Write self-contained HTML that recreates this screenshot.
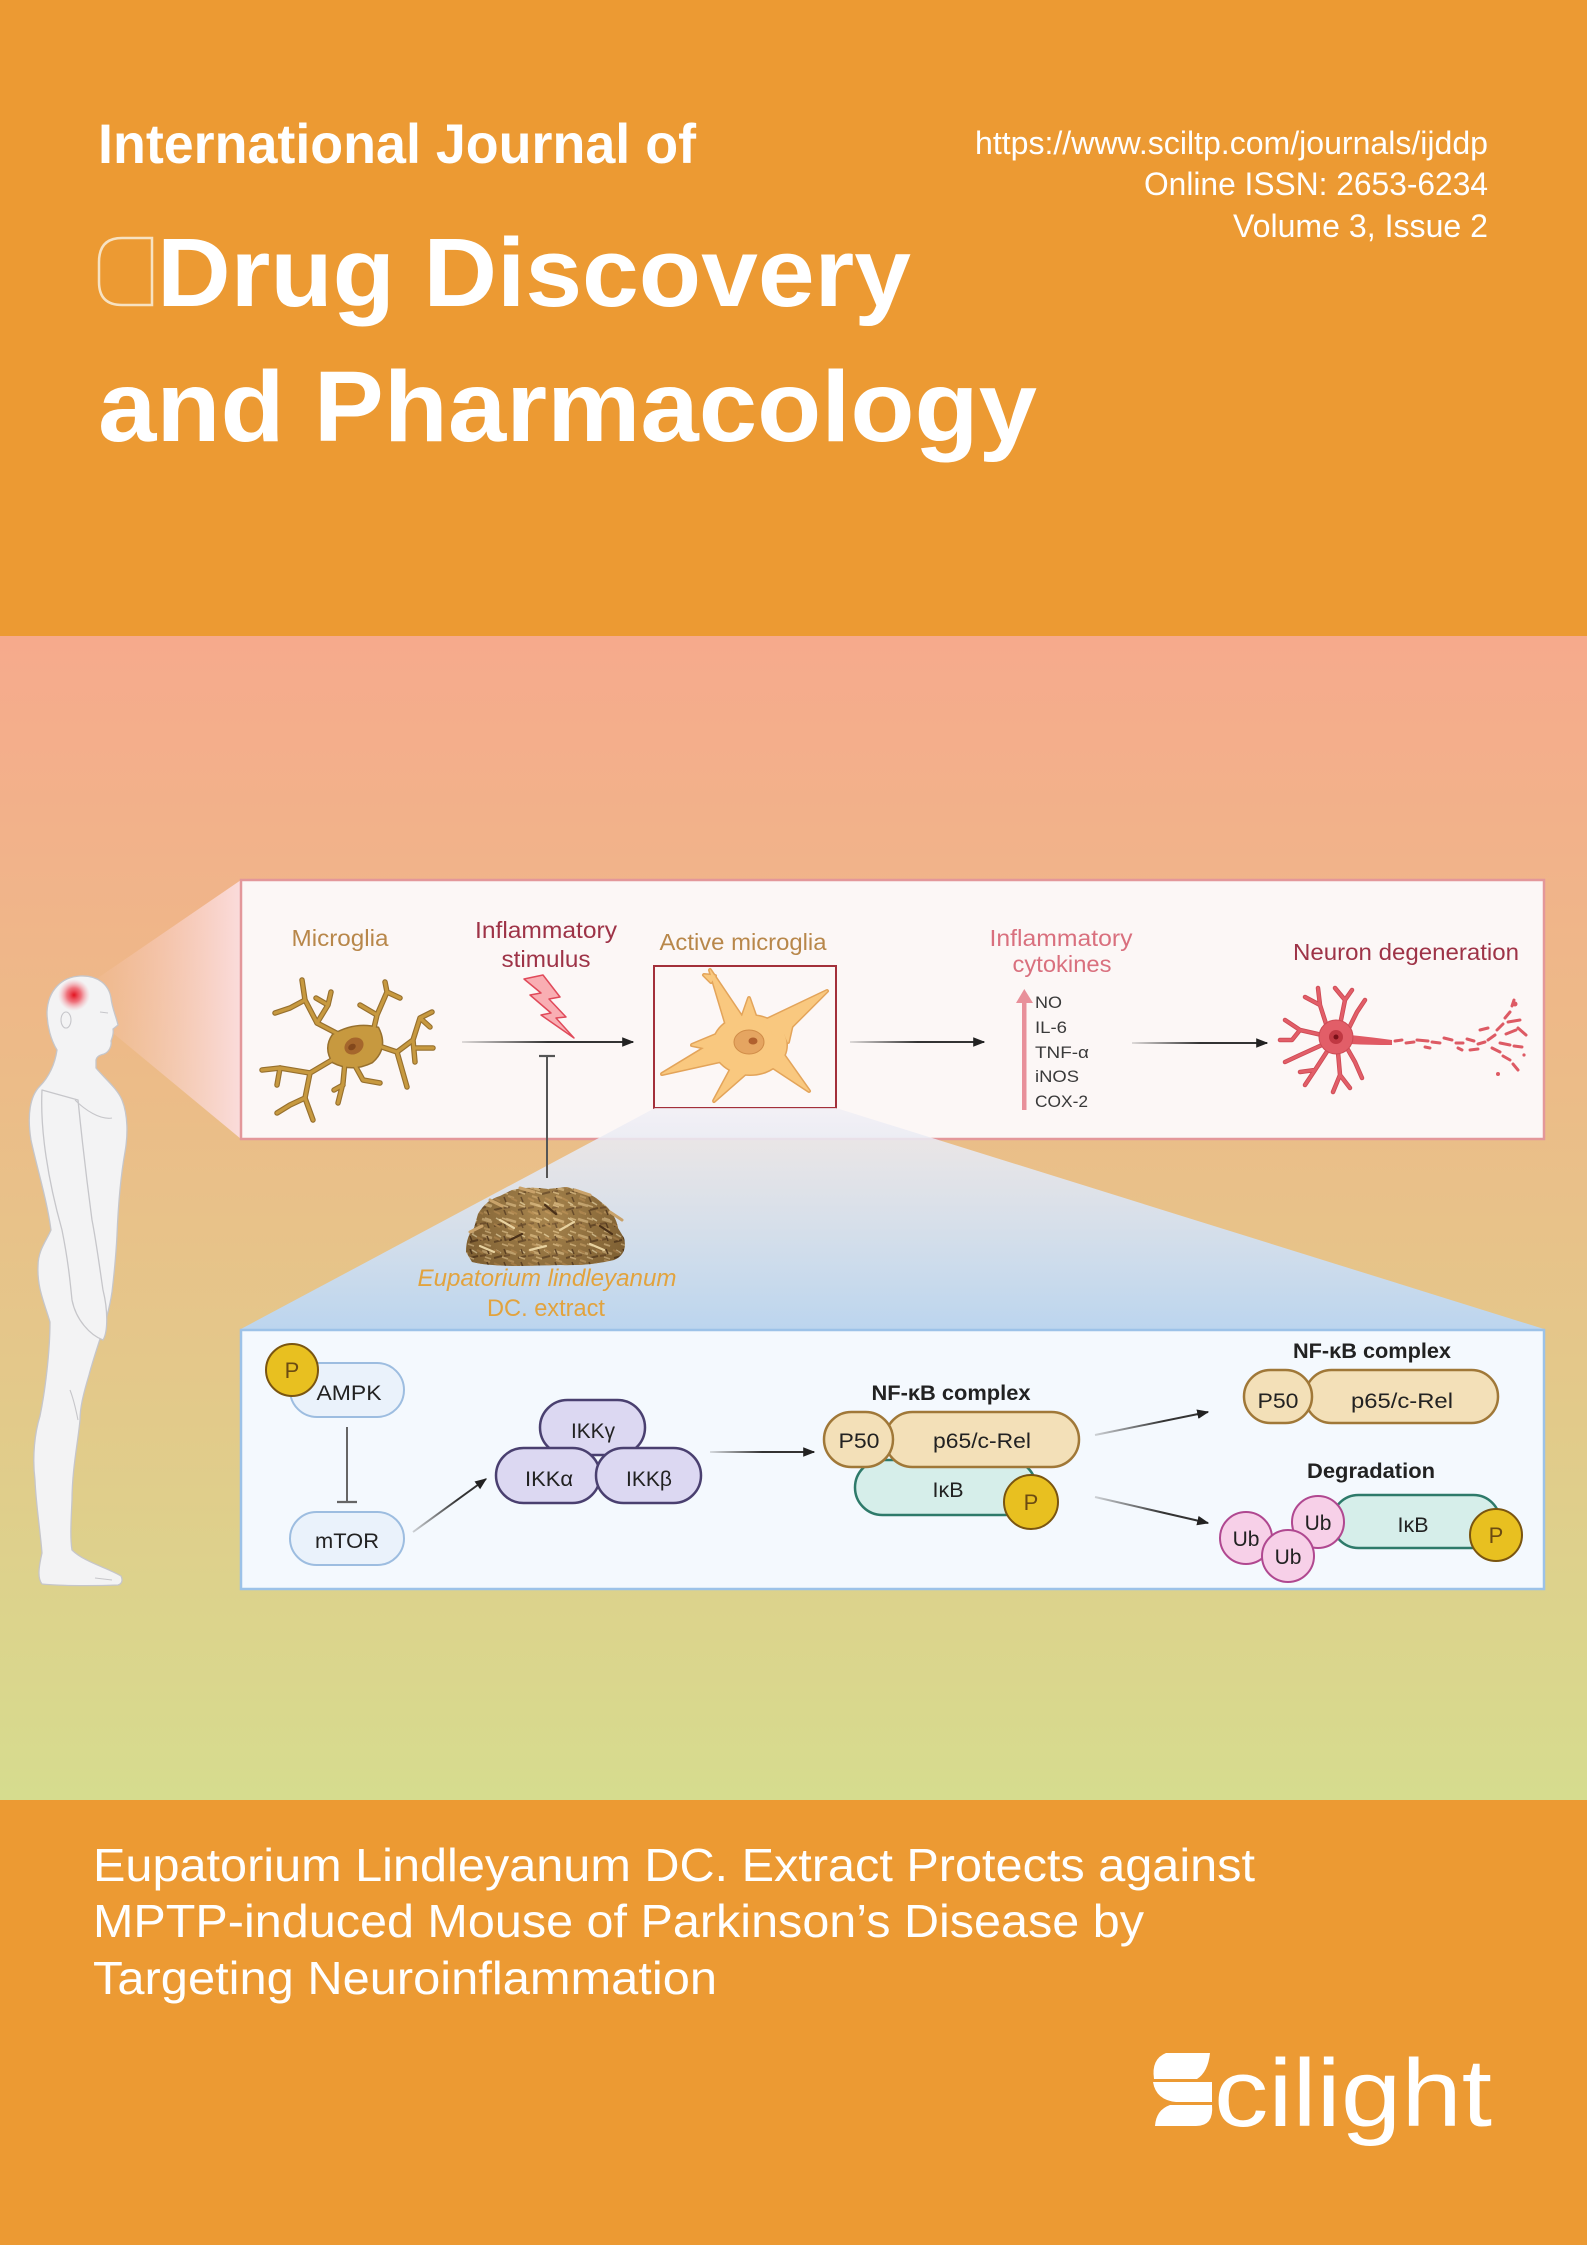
<!DOCTYPE html>
<html><head><meta charset="utf-8"><style>
html,body{margin:0;padding:0;background:#EC9A33;}
svg{display:block;font-family:"Liberation Sans","DejaVu Sans",sans-serif;}
</style></head><body>
<svg width="1587" height="2245" viewBox="0 0 1587 2245" xmlns="http://www.w3.org/2000/svg" xmlns:xlink="http://www.w3.org/1999/xlink">
<defs>
<linearGradient id="bg" x1="0" y1="636" x2="0" y2="1800" gradientUnits="userSpaceOnUse">
<stop offset="0" stop-color="#F6AA8C"/><stop offset="0.35" stop-color="#EDBA88"/><stop offset="0.65" stop-color="#E3C98A"/><stop offset="1" stop-color="#D6DC8E"/>
</linearGradient>
<linearGradient id="cone" x1="85" y1="0" x2="241" y2="0" gradientUnits="userSpaceOnUse">
<stop offset="0" stop-color="#F8C9BD" stop-opacity="0"/><stop offset="1" stop-color="#FBDDDE" stop-opacity="0.97"/>
</linearGradient>
<linearGradient id="trap" x1="0" y1="1108" x2="0" y2="1329" gradientUnits="userSpaceOnUse">
<stop offset="0" stop-color="#F1EFF5" stop-opacity="0.85"/><stop offset="1" stop-color="#BCD5EE"/>
</linearGradient>
<radialGradient id="glow" cx="74" cy="995" r="16" gradientUnits="userSpaceOnUse">
<stop offset="0" stop-color="#E3121F"/><stop offset="0.45" stop-color="#EE4B58" stop-opacity="0.75"/><stop offset="1" stop-color="#F7A0A8" stop-opacity="0"/>
</radialGradient>
<radialGradient id="pileShade" cx="545" cy="1215" r="90" gradientUnits="userSpaceOnUse">
<stop offset="0" stop-color="#C8A46A" stop-opacity="0.35"/><stop offset="1" stop-color="#4A3218" stop-opacity="0.35"/>
</radialGradient>
<linearGradient id="g1" x1="462" y1="0" x2="634" y2="0" gradientUnits="userSpaceOnUse"><stop offset="0" stop-color="#333" stop-opacity="0.15"/><stop offset="0.5" stop-color="#333"/></linearGradient>
<linearGradient id="g2" x1="850" y1="0" x2="985" y2="0" gradientUnits="userSpaceOnUse"><stop offset="0" stop-color="#333" stop-opacity="0.15"/><stop offset="0.5" stop-color="#333"/></linearGradient>
<linearGradient id="g3" x1="1132" y1="0" x2="1268" y2="0" gradientUnits="userSpaceOnUse"><stop offset="0" stop-color="#333" stop-opacity="0.15"/><stop offset="0.5" stop-color="#333"/></linearGradient>
<linearGradient id="g4" x1="710" y1="0" x2="815" y2="0" gradientUnits="userSpaceOnUse"><stop offset="0" stop-color="#333" stop-opacity="0.15"/><stop offset="0.5" stop-color="#333"/></linearGradient>
<linearGradient id="g5" x1="413" y1="0" x2="487" y2="0" gradientUnits="userSpaceOnUse"><stop offset="0" stop-color="#333" stop-opacity="0.2"/><stop offset="0.6" stop-color="#333"/></linearGradient>
<linearGradient id="g6" x1="1095" y1="0" x2="1209" y2="0" gradientUnits="userSpaceOnUse"><stop offset="0" stop-color="#333" stop-opacity="0.2"/><stop offset="0.6" stop-color="#333"/></linearGradient>
<marker id="ah" viewBox="0 0 10 8" refX="9" refY="4" markerWidth="12" markerHeight="10" markerUnits="userSpaceOnUse" orient="auto"><path d="M0,0 L10,4 L0,8 Z" fill="#222"/></marker>
<pattern id="bark" width="24" height="16" patternUnits="userSpaceOnUse">
<rect width="24" height="16" fill="#97753F"/>
<path d="M2,3 L12,6" stroke="#DDBD84" stroke-width="2.5"/>
<path d="M14,10 L22,8" stroke="#54391C" stroke-width="2"/>
<path d="M4,12 L10,14" stroke="#C9A266" stroke-width="2"/>
<path d="M16,2 L21,5" stroke="#EEDCAA" stroke-width="1.5"/>
<path d="M0,8 L6,7" stroke="#6B4A28" stroke-width="2"/>
</pattern>
<pattern id="bark2" width="17" height="13" patternUnits="userSpaceOnUse">
<path d="M1,2 L7,5" stroke="#B88C50" stroke-width="2"/>
<path d="M9,9 L15,11" stroke="#E2C48C" stroke-width="1.6"/>
<path d="M11,1 L13,6" stroke="#4A3018" stroke-width="1.5"/>
</pattern>
<g id="mgBr" fill="none" stroke-linecap="round" stroke-linejoin="round">
<path d="M340,1035 L317,1023 L305,1000 L302,980"/>
<path d="M305,1000 L290,1008 L275,1013"/>
<path d="M317,1023 L328,1005 L331,992 M328,1005 L316,998"/>
<path d="M337,1057 L310,1073 L280,1068 L262,1070"/>
<path d="M280,1068 L277,1085"/>
<path d="M310,1073 L305,1098 L290,1105 L277,1113"/>
<path d="M305,1098 L313,1120"/>
<path d="M353,1062 L363,1080 L380,1083"/>
<path d="M345,1062 L343,1083 L338,1103 M343,1085 L334,1090"/>
<path d="M373,1032 L377,1015 L360,1005 M377,1015 L387,992 L400,998 M387,992 L385,982"/>
<path d="M376,1045 L397,1052 L413,1040 L420,1018 L432,1012 M420,1018 L430,1027 M397,1052 L407,1087 M413,1040 L415,1062 M414,1048 L433,1048"/>
</g>
<path id="mgBody" d="M333,1035 Q355,1022 378,1028 Q388,1048 372,1062 Q352,1072 333,1062 Q324,1048 333,1035 Z"/>
<g id="am">
<ellipse cx="750" cy="1045" rx="36" ry="29"/>
<polygon points="728,1030 745,1022 710,970"/>
<polygon points="711,982 704,975 715,976"/>
<polygon points="762,1022 778,1040 827,991"/>
<polygon points="735,1062 755,1065 714,1101"/>
<polygon points="765,1062 780,1050 809,1091"/>
<polygon points="718,1040 725,1060 662,1074"/>
<polygon points="742,1018 756,1018 749,998"/>
<polygon points="782,1028 788,1042 793,1020"/>
<polygon points="716,1035 716,1050 692,1045"/>
</g>
<g id="nrBr" fill="none" stroke-linecap="round" stroke-linejoin="round">
<path d="M1328,1030 L1320,1005 L1318,988 M1320,1005 L1305,997"/>
<path d="M1340,1025 L1345,1000 L1335,988 M1345,1000 L1352,990"/>
<path d="M1348,1030 L1357,1012 L1365,1000"/>
<path d="M1322,1035 L1300,1030 L1285,1020 M1300,1030 L1292,1040 L1280,1040"/>
<path d="M1322,1045 L1300,1055 L1285,1062"/>
<path d="M1328,1050 L1315,1070 L1305,1085 M1315,1070 L1300,1072"/>
<path d="M1338,1052 L1340,1075 L1333,1092 M1340,1075 L1350,1088"/>
<path d="M1347,1048 L1355,1062 L1362,1078"/>
</g>
<path id="pile" d="M466,1252 Q466,1236 474,1228 L478,1214 Q486,1200 500,1196 L512,1190 Q530,1186 548,1189 L566,1187 Q584,1190 596,1198 L606,1206 Q616,1216 618,1228 L624,1238 Q628,1254 614,1260 Q590,1266 560,1265 L520,1266 Q488,1266 472,1262 Z"/>
</defs>

<!-- backgrounds -->
<rect x="0" y="0" width="1587" height="636" fill="#EC9A33"/>
<rect x="0" y="636" width="1587" height="1164" fill="url(#bg)"/>
<rect x="0" y="1800" width="1587" height="445" fill="#EC9A33"/>

<!-- header -->
<text x="98" y="163" font-size="56" font-weight="bold" fill="#fff" textLength="598" lengthAdjust="spacingAndGlyphs">International Journal of</text>
<path d="M152,238 H122 Q99,238 99,262 V282 Q99,305 122,305 H152 Z" fill="none" stroke="#F7E2C2" stroke-width="2.5"/>
<text x="157" y="306" font-size="97" font-weight="bold" fill="#fff" textLength="754" lengthAdjust="spacingAndGlyphs">Drug Discovery</text>
<text x="98" y="441" font-size="100" font-weight="bold" fill="#fff" textLength="939" lengthAdjust="spacingAndGlyphs">and Pharmacology</text>
<g fill="#fff" font-size="32" text-anchor="end">
<text x="1488" y="154" textLength="513" lengthAdjust="spacingAndGlyphs">https://www.sciltp.com/journals/ijddp</text>
<text x="1488" y="195" textLength="344" lengthAdjust="spacingAndGlyphs">Online ISSN: 2653-6234</text>
<text x="1488" y="237" textLength="255" lengthAdjust="spacingAndGlyphs">Volume 3, Issue 2</text>
</g>

<!-- cone from head -->
<polygon points="86,986 241,880 241,1139 102,1024" fill="url(#cone)"/>

<!-- human -->
<g fill="#F3F3F4" stroke="#C6C6CA" stroke-width="1.3" stroke-linejoin="round">
<path d="M80,976 C98,975 109,985 111,998 C112,1008 116,1016 118,1025 L113,1029 C114,1034 112,1038 111,1041 C112,1046 109,1052 104,1054 C100,1055 97,1056 96,1060 L96,1068 C104,1078 117,1088 122,1100 C128,1115 128,1135 125,1152 C120,1180 118,1210 117,1235 C116,1255 114,1275 112,1292 C108,1320 97,1345 89,1375 C83,1395 80,1408 80,1420 C78,1442 72,1470 72,1500 C71,1522 70,1538 72,1550 C84,1562 108,1568 121,1576 C123,1580 122,1584 118,1585 C95,1586 62,1586 42,1584 C37,1578 39,1566 42,1553 C40,1528 36,1505 35,1480 C32,1456 35,1432 40,1416 C45,1392 50,1352 50,1322 C44,1302 37,1287 38,1266 C38,1250 47,1240 51,1230 C47,1200 37,1168 31,1140 C27,1115 30,1096 40,1086 C49,1077 55,1064 57,1050 C51,1040 47,1026 47,1012 C48,990 62,977 80,976 Z"/>
<path d="M42,1090 C40,1130 48,1180 62,1230 C68,1260 70,1280 72,1300 C76,1320 90,1335 103,1340 C108,1332 108,1310 103,1290 C100,1270 96,1240 92,1220 C88,1190 82,1140 78,1100 Z"/>
</g>
<g fill="none" stroke="#C6C6CA" stroke-width="1.1">
<ellipse cx="66" cy="1020" rx="5" ry="8"/>
<path d="M100,1012 L108,1013"/>
<path d="M75,1100 C85,1110 100,1120 112,1118"/>
<path d="M70,1390 C74,1400 76,1410 78,1420"/>
<path d="M95,1578 L112,1580"/>
</g>
<circle cx="74" cy="995" r="16" fill="url(#glow)"/>

<!-- upper box -->
<rect x="241" y="880" width="1303" height="259" fill="#FCF7F6" stroke="#E3979A" stroke-width="2.5"/>

<text x="340" y="946" font-size="23" fill="#B8874A" text-anchor="middle" textLength="97" lengthAdjust="spacingAndGlyphs">Microglia</text>
<text x="546" y="938" font-size="23" fill="#9E3347" text-anchor="middle" textLength="142" lengthAdjust="spacingAndGlyphs">Inflammatory</text>
<text x="546" y="967" font-size="23" fill="#9E3347" text-anchor="middle" textLength="89" lengthAdjust="spacingAndGlyphs">stimulus</text>
<text x="743" y="950" font-size="23" fill="#B8874A" text-anchor="middle" textLength="167" lengthAdjust="spacingAndGlyphs">Active microglia</text>
<text x="1061" y="946" font-size="23" fill="#D9707E" text-anchor="middle" textLength="143" lengthAdjust="spacingAndGlyphs">Inflammatory</text>
<text x="1062" y="972" font-size="23" fill="#D9707E" text-anchor="middle" textLength="99" lengthAdjust="spacingAndGlyphs">cytokines</text>
<text x="1406" y="960" font-size="23" fill="#9E3347" text-anchor="middle" textLength="226" lengthAdjust="spacingAndGlyphs">Neuron degeneration</text>

<!-- microglia -->
<use xlink:href="#mgBr" stroke="#97702E" stroke-width="5.5"/>
<use xlink:href="#mgBody" fill="#97702E" stroke="#97702E" stroke-width="3"/>
<use xlink:href="#mgBr" stroke="#C7993F" stroke-width="3.2"/>
<use xlink:href="#mgBody" fill="#C7993F"/>
<ellipse cx="354" cy="1046" rx="10" ry="8" fill="#A5662C" transform="rotate(-30 354 1046)"/>
<ellipse cx="352" cy="1047" rx="4" ry="3" fill="#83481C" transform="rotate(-30 352 1047)"/>

<!-- lightning -->
<path d="M524,979 L543,975 L560,997 L549,999 L566,1017 L556,1018 L574,1038 L541,1015 L551,1013 L530,995 L541,993 Z" fill="#F9AEB3" stroke="#E04A5A" stroke-width="1.5" stroke-linejoin="round"/>

<!-- arrows upper -->
<line x1="462" y1="1042" x2="633" y2="1042" stroke="url(#g1)" stroke-width="2" marker-end="url(#ah)"/>
<line x1="850" y1="1042" x2="984" y2="1042" stroke="url(#g2)" stroke-width="2" marker-end="url(#ah)"/>
<line x1="1132" y1="1043" x2="1267" y2="1043" stroke="url(#g3)" stroke-width="2" marker-end="url(#ah)"/>

<!-- active microglia -->
<rect x="654" y="966" width="182" height="142" fill="none" stroke="#A3303A" stroke-width="2"/>
<use xlink:href="#am" fill="#E3A45A" stroke="#E3A45A" stroke-width="4" stroke-linejoin="round"/>
<use xlink:href="#am" fill="#F9C87F" stroke="#F9C87F" stroke-width="1" stroke-linejoin="round"/>
<ellipse cx="749" cy="1042" rx="15" ry="12" fill="#E5A561" stroke="#D08C48" stroke-width="1"/>
<ellipse cx="753" cy="1041" rx="4.5" ry="3.5" fill="#B0602E"/>

<!-- cytokines -->
<rect x="1022" y="1000" width="4.5" height="110" fill="#E8909A"/>
<polygon points="1016,1003 1024.3,989 1033,1003" fill="#E8909A"/>
<g font-size="17" fill="#3A3A3A">
<text x="1035" y="1008" textLength="27" lengthAdjust="spacingAndGlyphs">NO</text>
<text x="1035" y="1033" textLength="32" lengthAdjust="spacingAndGlyphs">IL-6</text>
<text x="1035" y="1058" textLength="54" lengthAdjust="spacingAndGlyphs">TNF-α</text>
<text x="1035" y="1082" textLength="44" lengthAdjust="spacingAndGlyphs">iNOS</text>
<text x="1035" y="1107" textLength="53" lengthAdjust="spacingAndGlyphs">COX-2</text>
</g>

<!-- neuron -->
<use xlink:href="#nrBr" stroke="#CD4A54" stroke-width="4.5"/>
<path d="M1350,1035 Q1370,1037 1392,1040 L1392,1045 Q1370,1045 1350,1044 Z" fill="#E05A64"/>
<use xlink:href="#nrBr" stroke="#E25E68" stroke-width="2.8"/>
<circle cx="1336" cy="1037" r="17" fill="#E25E68" stroke="#CD4A54" stroke-width="1"/>
<circle cx="1336" cy="1037" r="7" fill="#C03842"/>
<circle cx="1336" cy="1037" r="2.5" fill="#7A1018"/>
<g stroke="#DD5A64" stroke-width="3" stroke-linecap="round">
<path d="M1395,1041 L1402,1040 M1406,1043 L1414,1042 M1417,1040 L1428,1041 M1432,1042 L1440,1043 M1444,1038 L1452,1040 M1456,1043 L1463,1043 M1467,1039 L1474,1041 M1478,1044 L1485,1042 M1488,1040 L1495,1035 M1497,1030 L1503,1024 M1505,1018 L1510,1012 M1512,1006 L1514,1000 M1492,1048 L1500,1052 M1503,1056 L1510,1060 M1513,1064 L1518,1070 M1500,1043 L1510,1045 M1514,1046 L1522,1047 M1506,1034 L1516,1030 M1518,1028 L1526,1035 M1508,1022 L1520,1020 M1480,1030 L1488,1028 M1470,1050 L1478,1049 M1458,1048 L1462,1050 M1425,1047 L1430,1048"/>
</g>
<circle cx="1515" cy="1004" r="2.5" fill="#DD5A64"/>
<circle cx="1498" cy="1074" r="2" fill="#DD5A64"/>
<circle cx="1524" cy="1055" r="1.6" fill="#DD5A64"/>

<!-- blue trapezoid -->
<polygon points="655,1108 836,1108 1544,1329 241,1329" fill="url(#trap)"/>

<!-- inhibitor upper -->
<line x1="547" y1="1056" x2="547" y2="1178" stroke="#555" stroke-width="2"/>
<line x1="539" y1="1056" x2="555" y2="1056" stroke="#555" stroke-width="2.2"/>

<!-- plant -->
<use xlink:href="#pile" fill="url(#bark)"/>
<use xlink:href="#pile" fill="url(#bark2)"/>
<use xlink:href="#pile" fill="url(#pileShade)"/>
<g stroke-linecap="round">
<path d="M470,1232 L482,1226 M610,1212 L622,1220 M490,1200 L502,1206 M575,1190 L590,1195 M520,1188 L534,1192" stroke="#C9A26A" stroke-width="3"/>
<path d="M500,1220 L514,1228 M560,1230 L574,1222 M590,1244 L604,1250 M530,1250 L546,1246 M480,1246 L494,1252" stroke="#E8D2A0" stroke-width="2.2"/>
<path d="M545,1205 L556,1214 M510,1240 L522,1234 M600,1226 L612,1234" stroke="#4A3018" stroke-width="2.2"/>
</g>
<text x="547" y="1286" font-size="24" font-style="italic" fill="#E2A33E" text-anchor="middle" textLength="259" lengthAdjust="spacingAndGlyphs">Eupatorium lindleyanum</text>
<text x="546" y="1316" font-size="24" fill="#E2A33E" text-anchor="middle" textLength="118" lengthAdjust="spacingAndGlyphs">DC. extract</text>

<!-- lower box -->
<rect x="241" y="1330" width="1303" height="259" fill="#F4F9FE" stroke="#9CC2E8" stroke-width="2.5"/>

<!-- AMPK / mTOR -->
<rect x="290" y="1363" width="114" height="54" rx="27" fill="#EAF2FB" stroke="#9DBDE0" stroke-width="2"/>
<text x="349" y="1400" font-size="21" fill="#222" text-anchor="middle" textLength="65" lengthAdjust="spacingAndGlyphs">AMPK</text>
<circle cx="292" cy="1370" r="26" fill="#E8C020" stroke="#7A5510" stroke-width="2"/>
<text x="292" y="1378" font-size="22" fill="#6B4B12" text-anchor="middle">P</text>
<line x1="347" y1="1427" x2="347" y2="1502" stroke="#666" stroke-width="2"/>
<line x1="337" y1="1502" x2="357" y2="1502" stroke="#666" stroke-width="2.2"/>
<rect x="290" y="1512" width="114" height="53" rx="26.5" fill="#EAF2FB" stroke="#9DBDE0" stroke-width="2"/>
<text x="347" y="1548" font-size="21" fill="#222" text-anchor="middle" textLength="64" lengthAdjust="spacingAndGlyphs">mTOR</text>
<line x1="413" y1="1532" x2="486" y2="1479" stroke="url(#g5)" stroke-width="2" marker-end="url(#ah)"/>

<!-- IKK -->
<g fill="#DCD8F2" stroke="#4A4070" stroke-width="2.5">
<rect x="540" y="1400" width="105" height="55" rx="27.5"/>
<rect x="496" y="1448" width="104" height="55" rx="27.5"/>
<rect x="596" y="1448" width="105" height="55" rx="27.5"/>
</g>
<g font-size="21" fill="#222" text-anchor="middle">
<text x="593" y="1438" textLength="44" lengthAdjust="spacingAndGlyphs">IKKγ</text>
<text x="549" y="1486" textLength="48" lengthAdjust="spacingAndGlyphs">IKKα</text>
<text x="649" y="1486" textLength="46" lengthAdjust="spacingAndGlyphs">IKKβ</text>
</g>
<line x1="710" y1="1452" x2="814" y2="1452" stroke="url(#g4)" stroke-width="2" marker-end="url(#ah)"/>

<!-- NF-kB complex 1 -->
<text x="951" y="1400" font-size="21" font-weight="bold" fill="#222" text-anchor="middle" textLength="159" lengthAdjust="spacingAndGlyphs">NF-κB complex</text>
<rect x="855" y="1460" width="181" height="55" rx="27.5" fill="#D6EEEA" stroke="#2E7A6A" stroke-width="2.5"/>
<rect x="885" y="1412" width="194" height="55" rx="27.5" fill="#F3E0B8" stroke="#A07838" stroke-width="2.5"/>
<rect x="824" y="1412" width="69" height="55" rx="27.5" fill="#F3E0B8" stroke="#A07838" stroke-width="2.5"/>
<text x="859" y="1448" font-size="21" fill="#222" text-anchor="middle" textLength="41" lengthAdjust="spacingAndGlyphs">P50</text>
<text x="982" y="1448" font-size="21" fill="#222" text-anchor="middle" textLength="98" lengthAdjust="spacingAndGlyphs">p65/c-Rel</text>
<text x="948" y="1497" font-size="21" fill="#222" text-anchor="middle" textLength="31" lengthAdjust="spacingAndGlyphs">IκB</text>
<circle cx="1031" cy="1502" r="27" fill="#E8C020" stroke="#7A5510" stroke-width="2"/>
<text x="1031" y="1510" font-size="22" fill="#6B4B12" text-anchor="middle">P</text>

<line x1="1095" y1="1435" x2="1208" y2="1412" stroke="url(#g6)" stroke-width="2" marker-end="url(#ah)"/>
<line x1="1095" y1="1497" x2="1208" y2="1523" stroke="url(#g6)" stroke-width="2" marker-end="url(#ah)"/>

<!-- NF-kB complex 2 -->
<text x="1372" y="1358" font-size="21" font-weight="bold" fill="#222" text-anchor="middle" textLength="158" lengthAdjust="spacingAndGlyphs">NF-κB complex</text>
<rect x="1305" y="1370" width="193" height="53" rx="26.5" fill="#F3E0B8" stroke="#A07838" stroke-width="2.5"/>
<rect x="1244" y="1370" width="68" height="53" rx="26.5" fill="#F3E0B8" stroke="#A07838" stroke-width="2.5"/>
<text x="1278" y="1408" font-size="21" fill="#222" text-anchor="middle" textLength="41" lengthAdjust="spacingAndGlyphs">P50</text>
<text x="1402" y="1408" font-size="21" fill="#222" text-anchor="middle" textLength="102" lengthAdjust="spacingAndGlyphs">p65/c-Rel</text>

<!-- degradation -->
<text x="1371" y="1478" font-size="21" font-weight="bold" fill="#222" text-anchor="middle" textLength="128" lengthAdjust="spacingAndGlyphs">Degradation</text>
<rect x="1332" y="1495" width="168" height="53" rx="26.5" fill="#D6EEEA" stroke="#2E7A6A" stroke-width="2.5"/>
<text x="1413" y="1532" font-size="21" fill="#222" text-anchor="middle" textLength="31" lengthAdjust="spacingAndGlyphs">IκB</text>
<circle cx="1496" cy="1535" r="26" fill="#E8C020" stroke="#7A5510" stroke-width="2"/>
<text x="1496" y="1543" font-size="22" fill="#6B4B12" text-anchor="middle">P</text>
<g fill="#F7D0E8" stroke="#B04890" stroke-width="2">
<circle cx="1318" cy="1522" r="26"/>
<circle cx="1246" cy="1538" r="26"/>
<circle cx="1288" cy="1556" r="26"/>
</g>
<g font-size="21" fill="#222" text-anchor="middle">
<text x="1318" y="1530">Ub</text>
<text x="1246" y="1546">Ub</text>
<text x="1288" y="1564">Ub</text>
</g>

<!-- bottom title -->
<g fill="#fff" font-size="46">
<text x="93" y="1881" textLength="1162" lengthAdjust="spacingAndGlyphs">Eupatorium Lindleyanum DC. Extract Protects against</text>
<text x="93" y="1937" textLength="1051" lengthAdjust="spacingAndGlyphs">MPTP-induced Mouse of Parkinson’s Disease by</text>
<text x="93" y="1994" textLength="624" lengthAdjust="spacingAndGlyphs">Targeting Neuroinflammation</text>
</g>

<!-- Scilight logo -->
<g fill="#fff">
<path d="M1166,2053 H1210 Q1208,2072 1197,2079 H1154 Q1151,2059 1166,2053 Z"/>
<path d="M1153,2082 H1212 V2102 H1176 Q1156,2100 1153,2082 Z"/>
<path d="M1170,2105 H1212 Q1214,2126 1196,2126 H1155 Q1156,2110 1170,2105 Z"/>
<text x="1214" y="2126" font-size="96" textLength="278" lengthAdjust="spacingAndGlyphs">cilight</text>
</g>
</svg>
</body></html>
